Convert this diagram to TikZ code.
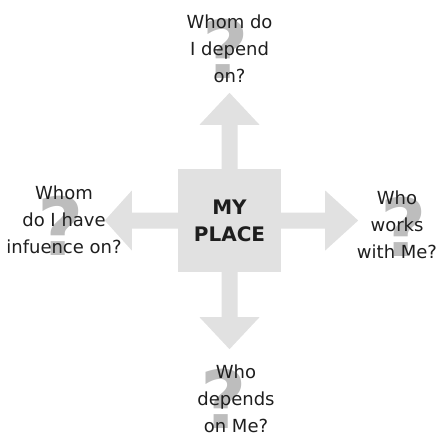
\documentclass[tikz,border=0pt]{standalone}
\usepackage{fontspec}
\setmainfont{DejaVu Sans}
\definecolor{arrgray}{HTML}{E1E1E1}
\definecolor{qgray}{HTML}{BDBDBD}
\definecolor{txt}{HTML}{1E1E1E}
\begin{document}
\begin{tikzpicture}[x=1pt,y=-1pt,
  arr/.style={fill=arrgray},
  qmark/.style={font=\bfseries\fontsize{80}{80}\selectfont, text=qgray, inner sep=0pt, anchor=base},
  lbl/.style={font=\fontsize{18}{27}\selectfont, text=txt, align=center, inner sep=0pt, anchor=base},
  centre/.style={fill=arrgray, minimum size=103pt, inner sep=0pt, text=txt, font=\bfseries\fontsize{20}{27}\selectfont, align=center}
]
\useasboundingbox (0,0) rectangle (438,437);
\node[centre] (me) at (229.5,220.5) {MY\\PLACE};
% block arrows
\fill[arr] ([xshift=-8pt]me.north) -- ++(0,-44) -- ++(-22,0) -- ++(30,-32) -- ++(30,32) -- ++(-22,0) -- ++(0,44) -- cycle;
\fill[arr] ([xshift=-8pt]me.south) -- ++(0,45) -- ++(-22,0) -- ++(30,32) -- ++(30,-32) -- ++(-22,0) -- ++(0,-45) -- cycle;
\fill[arr] ([yshift=8pt]me.west) -- ++(-46,0) -- ++(0,-22) -- ++(-27,30) -- ++(27,30) -- ++(0,-22) -- ++(46,0) -- cycle;
\fill[arr] ([yshift=8pt]me.east) -- ++(44,0) -- ++(0,-22) -- ++(33,30) -- ++(-33,30) -- ++(0,-22) -- ++(-44,0) -- cycle;
% question marks
\node[qmark] (qtop) at (226,78) {?};
\node[qmark] (qleft) at (61,255) {?};
\node[qmark] (qright) at (404,256) {?};
\node[qmark] (qbot) at (224,428) {?};
% labels (anchored at the baseline of the last line)
\node[lbl] (ttop) at (229.5,82) {Whom do\\I depend\\on?};
\node[lbl] (tleft) at (64,253) {Whom\\do I have\\infuence on?};
\node[lbl] (tright) at (397,258) {Who\\works\\with Me?};
\node[lbl] (tbot) at (236,432) {Who\\depends\\on Me?};
\end{tikzpicture}
\end{document}
